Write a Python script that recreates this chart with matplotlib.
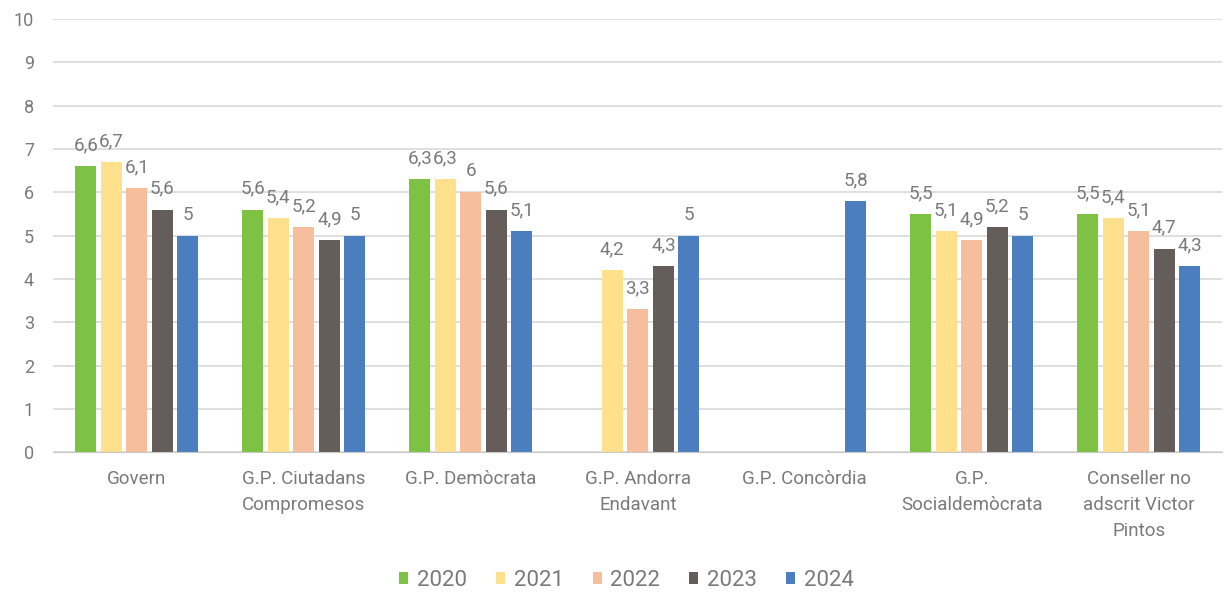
#!/usr/bin/env python3
import numpy as np
import matplotlib
matplotlib.use("Agg")
import matplotlib.pyplot as plt

plt.rcParams["font.family"] = ["Roboto", "DejaVu Sans"]

categories = [
    "Govern",
    "G.P. Ciutadans\nCompromesos",
    "G.P. Demòcrata",
    "G.P. Andorra\nEndavant",
    "G.P. Concòrdia",
    "G.P.\nSocialdemòcrata",
    "Conseller no\nadscrit Victor\nPintos",
]
years = ["2020", "2021", "2022", "2023", "2024"]
nan = np.nan
v2020 = [6.6, 5.6, 6.3, nan, nan, 5.5, 5.5]
v2021 = [6.7, 5.4, 6.3, 4.2, nan, 5.1, 5.4]
v2022 = [6.1, 5.2, 6.0, 3.3, nan, 4.9, 5.1]
v2023 = [5.6, 4.9, 5.6, 4.3, nan, 5.2, 4.7]
v2024 = [5.0, 5.0, 5.1, 5.0, 5.8, 5.0, 4.3]
series = [v2020, v2021, v2022, v2023, v2024]
colors = ["#7DC242", "#FFE08C", "#F6BE9C", "#645D5A", "#4A7EBF"]

txt = "#7A7A7A"

fig = plt.figure(figsize=(12.26, 6.16), dpi=100)
ax = fig.add_axes([0.0435, 0.266, 0.9535, 0.703])

x = np.arange(len(categories))
step = 0.153
width = 0.125

for i, (vals, col, yr) in enumerate(zip(series, colors, years)):
    pos = x + (i - 2) * step
    ax.bar(pos, vals, width=width, color=col, label=yr, zorder=3)
    for px, v in zip(pos, vals):
        if np.isnan(v):
            continue
        lab = f"{v:g}".replace(".", ",")
        ax.annotate(lab, (px, v), xytext=(0, 11.5), textcoords="offset points",
                    ha="center", va="baseline", fontsize=13.5, color=txt,
                    zorder=4)

ax.set_xlim(-0.5, len(categories) - 0.5)
ax.set_ylim(0, 10)
ax.set_yticks(range(0, 11))
ax.set_xticks(x)
ax.set_xticklabels(categories, fontsize=13.5, color=txt, linespacing=1.55)
ax.tick_params(axis="x", length=0, pad=13)
ax.tick_params(axis="y", length=0, pad=14, labelsize=13, labelcolor=txt)
ax.grid(axis="y", color="#D9D9D9", linewidth=1.2, zorder=0)
for s in ["top", "right", "left"]:
    ax.spines[s].set_visible(False)
ax.spines["bottom"].set_color("#C8C8C8")
ax.spines["bottom"].set_zorder(5)

fig.legend(loc="center", bbox_to_anchor=(0.511, 0.058), ncol=5, frameon=False,
           handlelength=0.4, handleheight=0.45, handletextpad=0.4,
           columnspacing=1.3, fontsize=16, labelcolor=txt)

fig.savefig("out.png", dpi=100)
